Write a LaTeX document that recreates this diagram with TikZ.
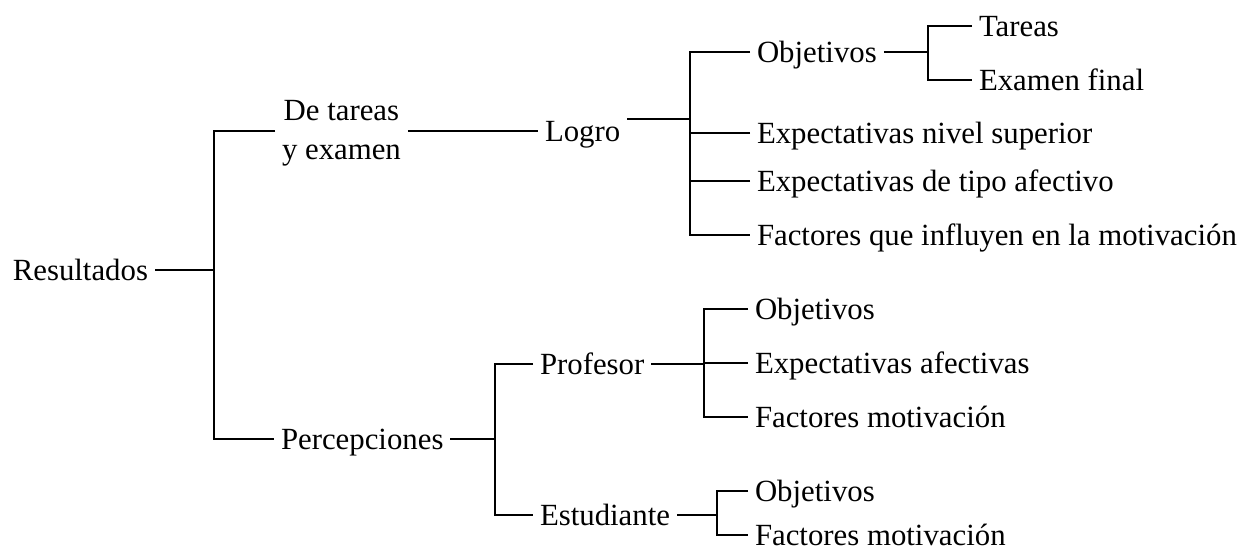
\documentclass[tikz,border=0pt]{standalone}
\usepackage{fontspec}
\setmainfont{Liberation Serif}
\begin{document}
\begin{tikzpicture}[x=1pt,y=-1pt,
  font=\fontsize{30.8}{39}\selectfont,
  lbl/.style={inner xsep=7pt, inner ysep=0pt, outer sep=0pt},
  one/.style={lbl, text height=20.3pt, text depth=0pt, anchor=west},
  conn/.style={line width=2.6pt}]
\useasboundingbox (0,0) rectangle (1244,548);
% nodes
\node[one, anchor=east] (res) at (155,270) {Resultados};
\coordinate (b0) at (214,270);
\node[lbl, align=center, anchor=west] (dt) at (275,133.5) {De tareas\\y examen};
\node[one] (logro) at (538,131) {Logro};
\coordinate (b1) at (690,119);
\node[one] (obj1) at (750,52) {Objetivos};
\node[one] (exs) at (750,133) {Expectativas nivel superior};
\node[one] (exa) at (750,181) {Expectativas de tipo afectivo};
\node[one] (fac) at (750,235) {Factores que influyen en la motivación};
\coordinate (b2) at (928,52);
\node[one] (tar) at (972,26) {Tareas};
\node[one] (exf) at (972,80) {Examen final};
\node[one] (perc) at (274,439) {Percepciones};
\coordinate (b3) at (495,439);
\node[one] (prof) at (533,364) {Profesor};
\node[one] (est) at (533,515) {Estudiante};
\coordinate (b4) at (704,364);
\node[one] (pobj) at (748,309) {Objetivos};
\node[one] (pexp) at (748,363) {Expectativas afectivas};
\node[one] (pfac) at (748,417) {Factores motivación};
\coordinate (b5) at (717,515);
\node[one] (eobj) at (748,491) {Objetivos};
\node[one] (efac) at (748,535) {Factores motivación};
% connectors
\draw[conn] (res.east) -- (b0);
\draw[conn] (dt.west |- logro.west) -| (b0) |- (perc.west);
\draw[conn] (dt.east |- logro.west) -- (logro.west);
\draw[conn] (logro.east |- b1) -- (b1);
\draw[conn] (obj1.west) -| (b1) |- (fac.west);
\draw[conn] (exs.west) -- (exs.west -| b1);
\draw[conn] (exa.west) -- (exa.west -| b1);
\draw[conn] (obj1.east) -- (b2);
\draw[conn] (tar.west) -| (b2) |- (exf.west);
\draw[conn] (perc.east) -- (b3);
\draw[conn] (prof.west) -| (b3) |- (est.west);
\draw[conn] (prof.east) -- (b4);
\draw[conn] (pobj.west) -| (b4) |- (pfac.west);
\draw[conn] (pexp.west) -- (pexp.west -| b4);
\draw[conn] (est.east) -- (est.east -| b5);
\draw[conn] (eobj.west) -| (b5) |- (efac.west);
\end{tikzpicture}
\end{document}
